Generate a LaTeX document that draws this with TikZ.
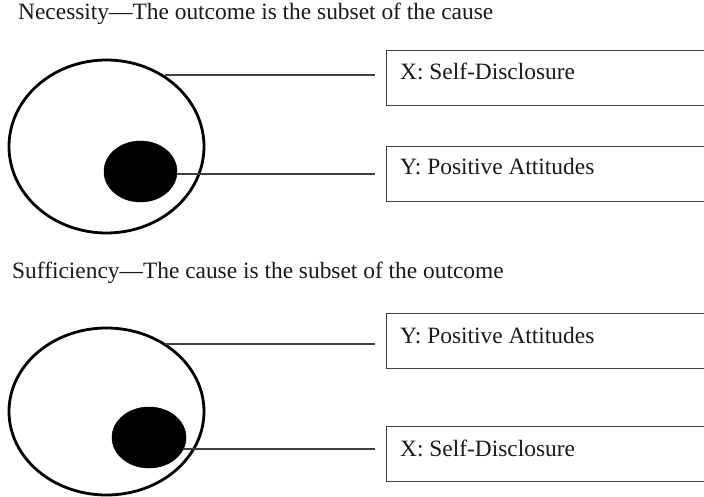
\documentclass[tikz,border=0pt]{standalone}
\usepackage{fontspec}
\setmainfont{Liberation Serif}
\usetikzlibrary{shapes.geometric}
\definecolor{txt}{HTML}{1A1A1A}
\definecolor{ln}{HTML}{404040}
\tikzset{
  outerset/.style={draw=black, ellipse, line width=2.8pt, inner sep=0pt},
  innerset/.style={fill=black, draw=black, ellipse, line width=0.5pt, inner sep=0pt},
  labelbox/.style={draw=ln, line width=1.3pt, rectangle, inner sep=0pt, minimum width=340pt, minimum height=55pt, anchor=north west},
  lbl/.style={anchor=base west, inner sep=0pt, text=txt, font=\fontsize{23.4}{27}\selectfont},
  conn/.style={draw=ln, line width=1.3pt}
}
\begin{document}
\begin{tikzpicture}[x=1pt, y=-1pt]
\clip (0,0) rectangle (704,497);
\fill[white] (0,0) rectangle (704,497);

% ---- Necessity ----
\node[lbl] (t1) at (18,20) {Necessity---The outcome is the subset of the cause};
\node[outerset, minimum width=195pt, minimum height=173pt] (bigA) at (106.5,146.5) {};
\node[innerset, minimum width=73pt, minimum height=61pt] (smallA) at (140.5,171.5) {};
\node[labelbox] (boxAX) at (386,50) {};
\node[labelbox] (boxAY) at (386,146) {};
\node[lbl] (lAX) at (400,80) {X: Self-Disclosure};
\node[lbl] (lAY) at (400,175) {Y: Positive Attitudes};
\coordinate (sA1) at (165,75);
\coordinate (eA1) at (375,75);
\coordinate (eA2) at (375,174);
\draw[conn] (sA1) -- (eA1);
\draw[conn] (smallA.east |- eA2) -- (eA2);

% ---- Sufficiency ----
\node[lbl] (t2) at (12,278) {Sufficiency---The cause is the subset of the outcome};
\node[outerset, minimum width=195pt, minimum height=167pt] (bigB) at (106.5,411.5) {};
\node[innerset, minimum width=74pt, minimum height=61pt] (smallB) at (149,437.5) {};
\node[labelbox] (boxBY) at (386,313) {};
\node[labelbox] (boxBX) at (386,426) {};
\node[lbl] (lBY) at (400,343) {Y: Positive Attitudes};
\node[lbl] (lBX) at (400,456) {X: Self-Disclosure};
\coordinate (sB1) at (165,344);
\coordinate (eB1) at (375,344);
\coordinate (sB2) at (183,449);
\coordinate (eB2) at (375,449);
\draw[conn] (sB1) -- (eB1);
\draw[conn] (sB2) -- (eB2);
\end{tikzpicture}
\end{document}
